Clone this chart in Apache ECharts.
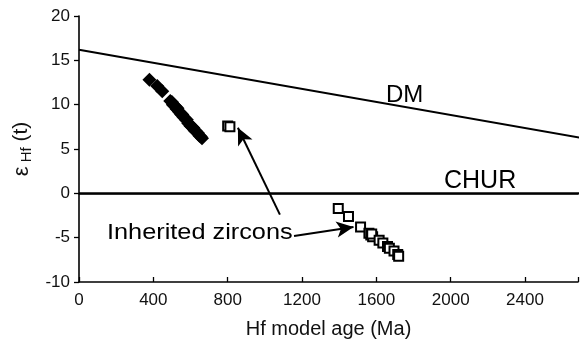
<!DOCTYPE html>
<html><head><meta charset="utf-8">
<script src="https://cdn.jsdelivr.net/npm/echarts@6/dist/echarts.min.js"></script>
<style>html,body{margin:0;padding:0;background:#fff;}#c{width:581px;height:344px;}</style>
</head><body><div id="c"></div>
<script>
// Hf model age (Ma) and epsilon Hf(t) values
var crustX = [379, 421, 448, 491, 500, 505, 512, 520, 525, 530, 538, 545, 550, 556, 562, 568, 575, 580, 588, 595, 600, 608, 615, 622, 630, 640, 648, 655, 662];
var crustY = [12.8, 12.1, 11.5, 10.4, 10.3, 10.0, 9.9, 9.8, 9.5, 9.6, 9.2, 9.1, 8.9, 8.9, 8.6, 8.5, 8.3, 8.3, 7.9, 7.8, 7.6, 7.5, 7.4, 7.1, 7.0, 6.8, 6.5, 6.4, 6.2];
var inhX = [800, 812, 1395, 1450, 1515, 1560, 1570, 1580, 1575, 1615, 1635, 1660, 1670, 1695, 1715, 1720];
var inhY = [7.6, 7.5, -1.7, -2.6, -3.8, -4.5, -4.7, -4.9, -4.6, -5.3, -5.6, -6.0, -6.2, -6.5, -6.9, -7.1];
var dmX = [0, 2800];
var dmY = [16.2, 5.9];
var churX = [0, 2800];
var churY = [0, 0];
var xTicks = [0, 400, 800, 1200, 1600, 2000, 2400];
var yTicks = [-10, -5, 0, 5, 10, 15, 20];

function pairs(xs, ys){ return xs.map(function(x,i){return [x, ys[i]];}); }
var FONT = "'Liberation Sans', Arial, Helvetica, sans-serif";
var chart = echarts.init(document.getElementById('c'));
var option = {
  animation: false,
  grid: {left: 79, right: -1, top: 16, bottom: 60},
  xAxis: [{
    type: 'value', min: 0, max: 2685, interval: 400,
    axisLine: {show: true, onZero: false, lineStyle: {color: '#000', width: 1.6}},
    axisTick: {show: true, inside: true, length: 5, lineStyle: {color: '#000', width: 1.3}},
    splitLine: {show: false},
    axisLabel: {color: '#111', fontSize: 17, fontFamily: FONT, margin: 10,
      formatter: function(v){ return xTicks.indexOf(v) >= 0 ? String(v) : ''; }},
    name: 'Hf model age (Ma)', nameLocation: 'middle', nameGap: 37,
    nameTextStyle: {color: '#111', fontSize: 20, fontFamily: FONT}
  }, {
    type: 'value', position: 'top', min: 0, max: 2685,
    axisLine: {show: true, lineStyle: {color: '#000', width: 1.6}},
    axisTick: {show: false}, axisLabel: {show: false}, splitLine: {show: false}
  }],
  yAxis: {
    type: 'value', min: -10, max: 20, interval: 5,
    axisLine: {show: true, onZero: false, lineStyle: {color: '#000', width: 1.6}},
    axisTick: {show: true, inside: false, length: 5, lineStyle: {color: '#000', width: 1.3}},
    splitLine: {show: false},
    axisLabel: {color: '#111', fontSize: 17, fontFamily: FONT, margin: 9,
      formatter: function(v){ return yTicks.indexOf(v) >= 0 ? String(v) : ''; }},
    name: '{e|ε}{s| Hf}{t| (t)}', nameLocation: 'middle', nameGap: 42,
    nameTextStyle: {color: '#111', fontFamily: FONT,
      rich: {
        e: {fontSize: 22, fontFamily: FONT, color: '#111', lineHeight: 26, verticalAlign: 'middle'},
        t: {fontSize: 21, fontFamily: FONT, color: '#111', lineHeight: 26, verticalAlign: 'middle'},
        s: {fontSize: 15, fontFamily: FONT, color: '#111', lineHeight: 26, verticalAlign: 'bottom'}
      }}
  },
  series: [
    {type: 'line', data: pairs(dmX, dmY), symbol: 'none', lineStyle: {color: '#000', width: 2}, z: 1, silent: true},
    {type: 'line', data: pairs(churX, churY), symbol: 'none', lineStyle: {color: '#000', width: 2}, z: 1, silent: true,
      markLine: {
        silent: true, symbol: ['none', 'arrow'], symbolSize: [12, 17],
        label: {show: false},
        lineStyle: {color: '#000', width: 2, type: 'solid'},
        data: [
          [{coord: [1081, -2.4]}, {coord: [855, 7.4]}],
          [{coord: [1157, -4.8]}, {coord: [1477, -3.8]}]
        ]
      }},
    {type: 'scatter', data: pairs(crustX, crustY), symbol: 'diamond', symbolSize: 14,
      itemStyle: {color: '#000', opacity: 1}, z: 3},
    {type: 'scatter', data: pairs(inhX, inhY), symbol: 'rect', symbolSize: 9,
      itemStyle: {color: '#fff', borderColor: '#000', borderWidth: 2, opacity: 1}, z: 4}
  ],
  graphic: [
    {type: 'text', x: 386, y: 95, style: {text: 'DM', font: '24px ' + FONT, fill: '#000', verticalAlign: 'middle'}},
    {type: 'text', x: 444, y: 181, style: {text: 'CHUR', font: '25px ' + FONT, fill: '#000', verticalAlign: 'middle'}},
    {type: 'text', x: 107, y: 233, scaleX: 1.15, style: {text: 'Inherited zircons', font: '22px ' + FONT, fill: '#000', verticalAlign: 'middle'}}
  ]
};
chart.setOption(option);
</script></body></html>
